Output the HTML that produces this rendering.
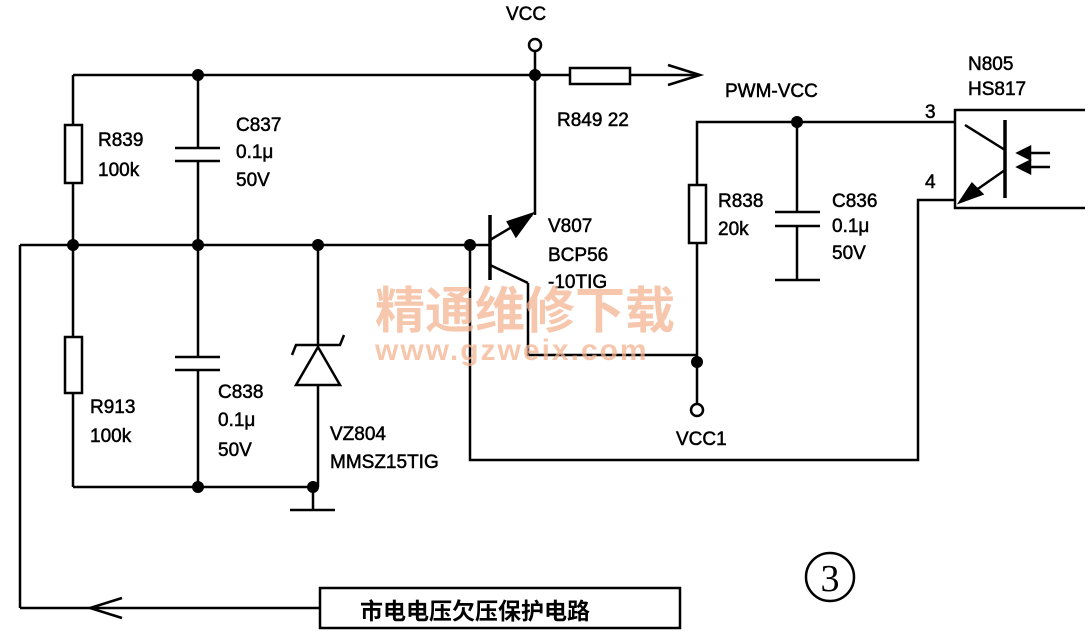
<!DOCTYPE html>
<html><head><meta charset="utf-8"><style>
body{margin:0;background:#fff}
svg{display:block}
text{font-family:"Liberation Sans","Noto Sans CJK SC",sans-serif;fill:#000}
</style></head><body>
<svg width="1090" height="643" viewBox="0 0 1090 643" xmlns="http://www.w3.org/2000/svg">
<g stroke="#000" stroke-width="2.5" fill="none">
<line x1="73" y1="75" x2="570" y2="75"/>
<line x1="535" y1="52" x2="535" y2="215"/>
<circle cx="535" cy="45" r="6" fill="#fff"/>
<rect x="570" y="68" width="60" height="16"/>
<line x1="630" y1="75" x2="700" y2="75"/>
<polyline points="668,65 700,75 668,85"/>
<line x1="73" y1="75" x2="73" y2="487"/>
<rect x="65" y="125" width="17" height="58" fill="#fff"/>
<rect x="65" y="337" width="17" height="56" fill="#fff"/>
<line x1="20" y1="245" x2="490" y2="245"/>
<line x1="20" y1="245" x2="20" y2="608"/>
<line x1="20" y1="608" x2="320" y2="608"/>
<polyline points="122,598 90,608 122,618"/>
<rect x="320" y="588" width="360" height="40"/>
<line x1="198" y1="75" x2="198" y2="148"/>
<line x1="175" y1="148" x2="220" y2="148"/>
<line x1="175" y1="161" x2="220" y2="161"/>
<line x1="198" y1="161" x2="198" y2="357"/>
<line x1="175" y1="357" x2="220" y2="357"/>
<line x1="175" y1="370" x2="220" y2="370"/>
<line x1="198" y1="370" x2="198" y2="487"/>
<line x1="73" y1="487" x2="313" y2="487"/>
<line x1="318" y1="245" x2="318" y2="345"/>
<polygon points="296,385 340,385 318,347"/>
<polyline points="292,355 296,345 340,345 344,335"/>
<line x1="318" y1="385" x2="318" y2="487"/>
<line x1="313" y1="487" x2="313" y2="510"/>
<line x1="290" y1="510" x2="335" y2="510"/>
<line x1="490" y1="215" x2="490" y2="280" stroke-width="3.5"/>
<line x1="490" y1="240" x2="532" y2="215"/>
<polygon points="532,214 508,222 516,236" fill="#000"/>
<line x1="490" y1="265" x2="528" y2="283"/>
<polyline points="528,283 528,355 697,355"/>
<polyline points="470,245 470,460 918,460 918,200 955,200"/>
<polyline points="955,122 697,122 697,405"/>
<rect x="689" y="185" width="17" height="58" fill="#fff"/>
<circle cx="697" cy="410" r="6" fill="#fff"/>
<line x1="797" y1="122" x2="797" y2="212"/>
<line x1="775" y1="212" x2="820" y2="212"/>
<line x1="775" y1="226" x2="820" y2="226"/>
<line x1="797" y1="226" x2="797" y2="280"/>
<line x1="775" y1="280" x2="820" y2="280"/>
<polyline points="1085,110 955,110 955,208 1085,208"/>
<line x1="1005" y1="120" x2="1005" y2="198" stroke-width="3.5"/>
<line x1="965" y1="125" x2="1005" y2="150"/>
<line x1="1005" y1="170" x2="962" y2="200"/>
<polygon points="960,202 972,184 982,194" fill="#000"/>
<line x1="1020" y1="153" x2="1050" y2="153"/>
<line x1="1020" y1="167" x2="1050" y2="167"/>
<polygon points="1018,153 1030,147 1030,159" fill="#000"/>
<polygon points="1018,167 1030,161 1030,173" fill="#000"/>
</g>
<g fill="#000">
<circle cx="198" cy="75" r="6"/><circle cx="535" cy="75" r="6"/>
<circle cx="73" cy="245" r="6"/><circle cx="198" cy="245" r="6"/>
<circle cx="318" cy="245" r="6"/><circle cx="470" cy="245" r="6"/>
<circle cx="198" cy="487" r="6"/><circle cx="313" cy="487" r="6"/>
<circle cx="697" cy="362" r="6"/><circle cx="797" cy="122" r="6"/>
</g>
<g font-size="19" style="stroke:#000;stroke-width:0.5">
<text x="506" y="20">VCC</text>
<text x="725" y="97">PWM-VCC</text>
<text x="557" y="126">R849 22</text>
<text x="98" y="146">R839</text><text x="98" y="176">100k</text>
<text x="236" y="131">C837</text><text x="236" y="158">0.1μ</text><text x="236" y="186">50V</text>
<text x="90" y="413">R913</text><text x="90" y="442">100k</text>
<text x="218" y="398">C838</text><text x="218" y="426">0.1μ</text><text x="218" y="456">50V</text>
<text x="330" y="440">VZ804</text><text x="330" y="468">MMSZ15TIG</text>
<text x="548" y="232">V807</text><text x="548" y="261">BCP56</text><text x="548" y="288">-10TIG</text>
<text x="718" y="207">R838</text><text x="718" y="235">20k</text>
<text x="832" y="207">C836</text><text x="832" y="232">0.1μ</text><text x="832" y="259">50V</text>
<text x="676" y="445">VCC1</text>
<text x="968" y="70">N805</text><text x="968" y="95">HS817</text>
<text x="925" y="118">3</text><text x="925" y="188">4</text>
</g>
<text x="360" y="619" font-size="23" font-weight="bold">市电电压欠压保护电路</text>
<text x="375" y="328" font-size="50" style="fill:#f3b592;opacity:.75" font-weight="bold">精通维修下载</text>
<text x="375" y="360" font-size="30" style="fill:#f3b592;opacity:.75" font-weight="bold" letter-spacing="2">www.gzweix.com</text>
<circle cx="830" cy="577" r="24" fill="none" stroke="#000" stroke-width="2.5"/>
<text x="830" y="591" font-size="38" text-anchor="middle" style="font-family:'Liberation Serif',serif">3</text>
</svg>
</body></html>
